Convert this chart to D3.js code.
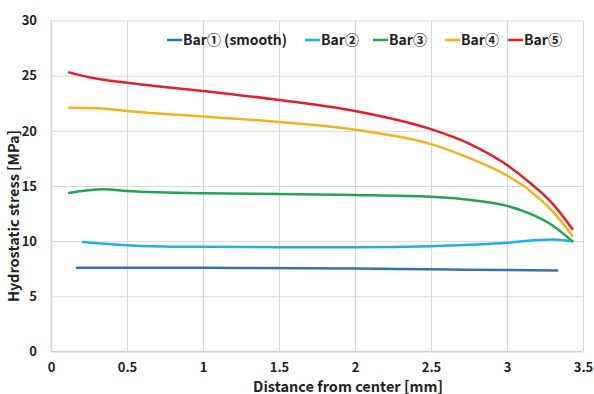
<!DOCTYPE html>
<html>
<head>
<meta charset="utf-8">
<script src="https://cdn.jsdelivr.net/npm/d3@7"></script>
<style>
  body { margin: 0; background: #fff; }
  svg text { font-family: "Noto Sans CJK JP", "Noto Sans", sans-serif; font-weight: bold; }
</style>
</head>
<body>
<div id="chart"></div>
<script>
// tick labels
const xTicks = [0, 0.5, 1, 1.5, 2, 2.5, 3, 3.5];
const yTicks = [0, 5, 10, 15, 20, 25, 30];

// series (distance [mm], stress [MPa])
const bar1X = [0.17, 1.0, 2.0, 2.5, 3.0, 3.33];
const bar1Y = [7.58, 7.58, 7.52, 7.45, 7.38, 7.34];
const bar2X = [0.21, 0.5, 0.8, 1.0, 1.5, 2.0, 2.5, 3.0, 3.2, 3.3, 3.43];
const bar2Y = [9.93, 9.63, 9.5, 9.5, 9.45, 9.45, 9.55, 9.85, 10.1, 10.15, 10.0];
const bar3X = [0.12, 0.34, 0.5, 1.0, 1.5, 2.0, 2.5, 2.8, 3.0, 3.15, 3.28, 3.43];
const bar3Y = [14.37, 14.7, 14.55, 14.34, 14.28, 14.19, 14.03, 13.67, 13.2, 12.5, 11.6, 10.0];
const bar4X = [0.12, 0.3, 0.5, 1.0, 1.5, 2.0, 2.5, 2.75, 3.0, 3.15, 3.3, 3.43];
const bar4Y = [22.1, 22.05, 21.8, 21.3, 20.8, 20.1, 18.8, 17.55, 15.95, 14.6, 12.7, 10.5];
const bar5X = [0.12, 0.25, 0.5, 1.0, 1.5, 2.0, 2.5, 2.75, 3.0, 3.15, 3.3, 3.43];
const bar5Y = [25.3, 24.85, 24.35, 23.6, 22.8, 21.8, 20.15, 18.85, 16.9, 15.3, 13.4, 11.1];

const seriesNames = ["Bar\u2460 (smooth)", "Bar\u2461", "Bar\u2462", "Bar\u2463", "Bar\u2464"];
const seriesColors = ["#2e75b6", "#1fb0e6", "#23a455", "#f4b223", "#e3202a"];

const series = [
  {name: seriesNames[0], color: seriesColors[0], x: bar1X, y: bar1Y},
  {name: seriesNames[1], color: seriesColors[1], x: bar2X, y: bar2Y},
  {name: seriesNames[2], color: seriesColors[2], x: bar3X, y: bar3Y},
  {name: seriesNames[3], color: seriesColors[3], x: bar4X, y: bar4Y},
  {name: seriesNames[4], color: seriesColors[4], x: bar5X, y: bar5Y}
];

let margin = {top: 20.5, right: 11, bottom: 42.5, left: 51},
    W = 594, H = 394,
    width = W - margin.left - margin.right,
    height = H - margin.top - margin.bottom;

let svg = d3.select("#chart").append("svg")
    .attr("width", W)
    .attr("height", H)
  .append("g")
    .attr("transform", `translate(${margin.left},${margin.top})`);

let x = d3.scaleLinear().domain([0, 3.5]).range([0, width]);
let y = d3.scaleLinear().domain([0, 30]).range([height, 0]);

// grid lines
svg.append("g")
    .attr("class", "grid")
    .call(d3.axisLeft(y).tickValues(yTicks).tickSize(-width).tickFormat(""))
    .call(g => g.select(".domain").remove())
    .selectAll("line").attr("stroke", "#d9d9d9");

svg.append("g")
    .attr("class", "grid")
    .call(d3.axisBottom(x).tickValues(xTicks).tickSize(height).tickFormat(""))
    .call(g => g.select(".domain").remove())
    .selectAll("line").attr("stroke", "#d9d9d9");

// axes lines
svg.append("line")
    .attr("x1", 0).attr("x2", 0).attr("y1", 0).attr("y2", height)
    .attr("stroke", "#cfcfcf");
svg.append("line")
    .attr("x1", 0).attr("x2", width).attr("y1", height).attr("y2", height)
    .attr("stroke", "#cfcfcf");

// tick labels
svg.append("g")
    .attr("transform", `translate(0,${height + 8})`)
    .call(d3.axisBottom(x).tickValues(xTicks).tickSize(0).tickFormat(d3.format("")))
    .call(g => g.select(".domain").remove())
    .selectAll("text")
    .attr("font-size", "13px")
    .attr("fill", "#222");

svg.append("g")
    .attr("transform", "translate(-11,0)")
    .call(d3.axisLeft(y).tickValues(yTicks).tickSize(0))
    .call(g => g.select(".domain").remove())
    .selectAll("text")
    .attr("font-size", "13px")
    .attr("fill", "#222");

// axis titles
svg.append("text")
    .attr("x", 348 - margin.left)
    .attr("y", height + 40)
    .attr("text-anchor", "middle")
    .attr("font-size", "14.5px")
    .attr("fill", "#222")
    .text("Distance from center [mm]");

svg.append("text")
    .attr("transform", `translate(${19 - margin.left},${216 - margin.top}) rotate(-90)`)
    .attr("text-anchor", "middle")
    .attr("font-size", "14.5px")
    .attr("fill", "#222")
    .text("Hydrostatic stress [MPa]");

// lines
let line = d3.line()
    .x(d => x(d[0]))
    .y(d => y(d[1]))
    .curve(d3.curveMonotoneX);

svg.append("g")
    .selectAll("path")
    .data(series)
    .join("path")
    .attr("d", s => line(s.x.map((v, i) => [v, s.y[i]])))
    .attr("fill", "none")
    .attr("stroke", s => s.color)
    .attr("stroke-width", 2.5)
    .attr("stroke-linecap", "round");

// legend
let legendX = [167, 305, 373, 445, 508];
let legend = d3.select("svg").append("g")
    .selectAll("g")
    .data(series)
    .join("g")
    .attr("transform", (d, i) => `translate(${legendX[i]},40)`);

legend.append("line")
    .attr("x1", 0).attr("x2", 15)
    .attr("stroke", d => d.color)
    .attr("stroke-width", 2.6);

legend.append("text")
    .attr("x", 16)
    .attr("dy", "0.35em")
    .attr("font-size", "14px")
    .attr("fill", "#222")
    .text(d => d.name);
</script>
</body>
</html>
